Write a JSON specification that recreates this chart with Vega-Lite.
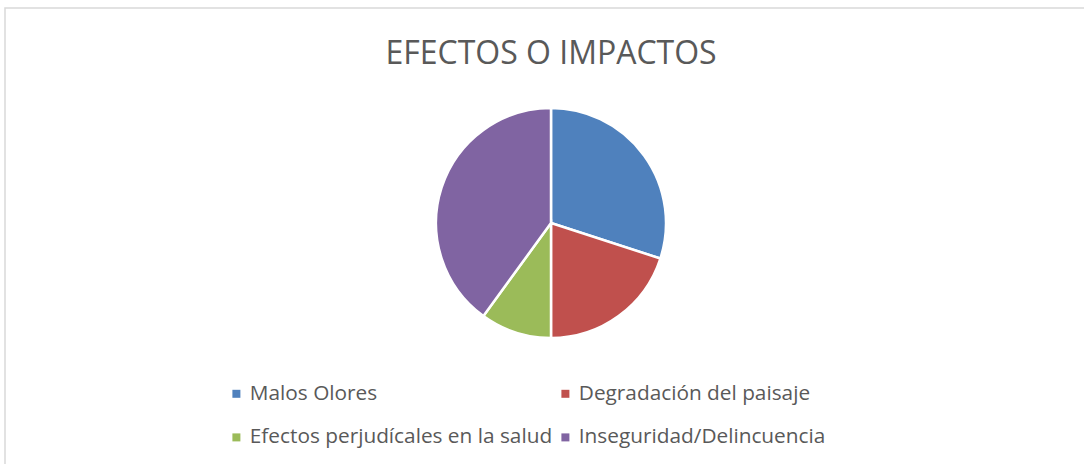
{
  "$schema": "https://vega.github.io/schema/vega-lite/v6.json",
  "width": 1092,
  "height": 470,
  "autosize": {"type": "none"},
  "padding": {"left": 5, "top": 8, "right": -13, "bottom": -14},
  "background": "white",
  "view": {"stroke": "#d9d9d9", "strokeWidth": 1.5, "fill": "white"},
  "config": {
    "font": "Open Sans"
  },
  "title": {
    "text": "EFECTOS O IMPACTOS",
    "fontSize": 32,
    "fontWeight": "normal",
    "color": "#595959",
    "anchor": "middle",
    "orient": "top",
    "offset": -88,
    "baseline": "alphabetic"
  },
  "data": {
    "values": [
      {"i": 1, "efecto": "Malos Olores", "valor": 30},
      {"i": 2, "efecto": "Degradación del paisaje", "valor": 20},
      {"i": 3, "efecto": "Efectos perjudícales en la salud", "valor": 10},
      {"i": 4, "efecto": "Inseguridad/Delincuencia", "valor": 40}
    ]
  },
  "mark": {"type": "arc", "outerRadius": 115, "stroke": "white", "strokeWidth": 2.5, "yOffset": -20},
  "encoding": {
    "theta": {"field": "valor", "type": "quantitative", "stack": true},
    "order": {"field": "i", "type": "quantitative"},
    "color": {
      "field": "efecto",
      "type": "nominal",
      "scale": {
        "domain": ["Malos Olores", "Degradación del paisaje", "Efectos perjudícales en la salud", "Inseguridad/Delincuencia"],
        "range": ["#4f81bd", "#c0504d", "#9bbb59", "#8064a2"]
      },
      "legend": {
        "orient": "none",
        "direction": "horizontal",
        "legendX": 221,
        "legendY": 375,
        "columns": 2,
        "title": null,
        "symbolType": "square",
        "symbolSize": 64,
        "symbolStrokeWidth": 0,
        "labelFontSize": 20.8,
        "labelColor": "#595959",
        "labelOffset": 3,
        "rowPadding": 22,
        "columnPadding": 2,
        "labelLimit": 0
      }
    }
  }
}
